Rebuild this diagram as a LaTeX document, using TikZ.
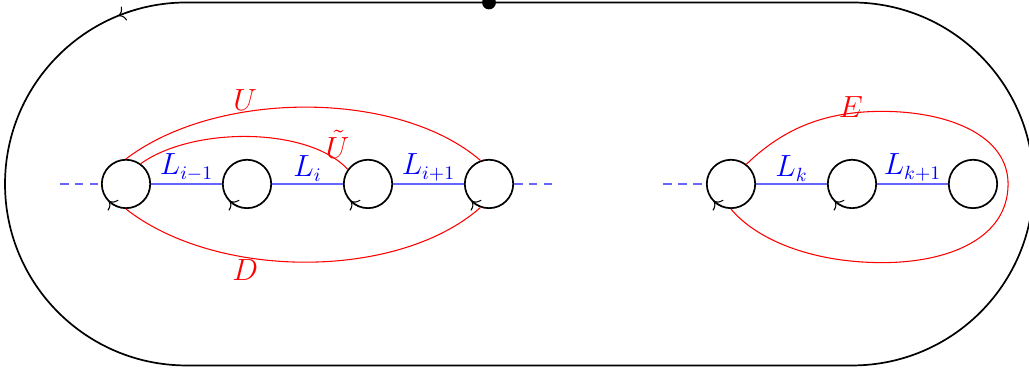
\documentclass[tikz,border=0pt]{standalone}
\usetikzlibrary{arrows.meta}
\begin{document}
\begin{tikzpicture}[
  hole/.style={circle, draw, thick, minimum size=0.8cm, inner sep=0pt},
  cut/.style={blue!60, line width=0.6pt},
  cutdash/.style={cut, dash pattern=on 4pt off 3pt},
  redc/.style={red, line width=0.5pt},
  lab/.style={text=blue, font=\fontsize{13.5}{15}\selectfont, above, inner sep=1pt},
  rlab/.style={text=red, font=\fontsize{13.5}{15}\selectfont, inner sep=0pt},
  tick/.style={-{To[length=3pt,width=7pt]}, line width=0.5pt}
]
\useasboundingbox (-2.083,-3.107) rectangle (14.926,3.041);
% outer boundary
\draw[thick] (1,3) -- (12,3) arc (90:-90:3) -- (1,-3) arc (270:90:3);
\node[circle, fill, inner sep=0pt, minimum size=6.5pt] (pt) at (6,3) {};
\draw[tick] (1,0) ++(106:3) arc (106:112:3);
% holes
\node[hole] (c1) at (0,0) {};
\node[hole] (c2) at (2,0) {};
\node[hole] (c3) at (4,0) {};
\node[hole] (c4) at (6,0) {};
\node[hole] (c5) at (10,0) {};
\node[hole] (c6) at (12,0) {};
\node[hole] (c7) at (14,0) {};
\foreach \c in {c1,c2,c3,c4,c5,c6}{
  \draw[tick] ([shift={(250:0.4)}]\c.center) arc (250:225:0.4);
}
% cuts
\coordinate (d1) at (-1.09,0);
\coordinate (d2) at (7.06,0);
\coordinate (d3) at (8.88,0);
\draw[cutdash] (d1) -- (c1);
\draw[cutdash] (c4) -- (d2);
\draw[cutdash] (d3) -- (c5);
\draw[cut] (c1) -- node[lab] (l1) {$L_{i-1}$} (c2);
\draw[cut] (c2) -- node[lab] (l2) {$L_{i}$} (c3);
\draw[cut] (c3) -- node[lab] (l3) {$L_{i+1}$} (c4);
\draw[cut] (c5) -- node[lab] (l5) {$L_{k}$} (c6);
\draw[cut] (c6) -- node[lab] (l6) {$L_{k+1}$} (c7);
% red curves
\draw[redc] (c1.90) .. controls (1.5,1.56) and (4.5,1.56) .. (c4.110);
\draw[redc] (c1.54) .. controls (1.1,0.95) and (3.0,0.95) .. (c3.144);
\draw[redc] (c1.270) .. controls (1.5,-1.59) and (4.5,-1.59) .. (c4.250);
\draw[redc] (c5.52) .. controls (10.9,0.95) and (11.6,1.2) .. (12.5,1.2)
  .. controls (13.6,1.2) and (14.58,0.8) .. (14.58,0)
  .. controls (14.58,-0.9) and (13.6,-1.3) .. (12.5,-1.3)
  .. controls (11.3,-1.3) and (10.4,-0.9) .. (c5.270);
\node[rlab] (lU) at (1.97,1.39) {$U$};
\node[rlab] (lUt) at (3.5,0.66) {$\tilde U$};
\node[rlab] (lD) at (1.97,-1.42) {$D$};
\node[rlab] (lE) at (11.98,1.27) {$E$};
\end{tikzpicture}
\end{document}
